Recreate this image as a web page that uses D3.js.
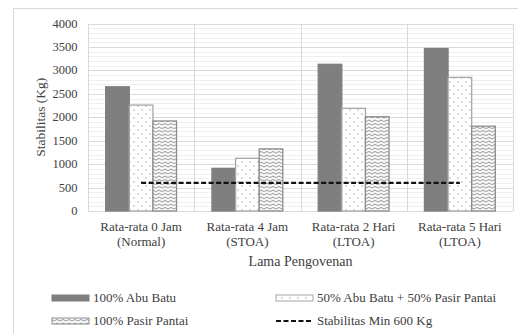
<!DOCTYPE html>
<html>
<head>
<meta charset="utf-8">
<script src="https://cdn.jsdelivr.net/npm/d3@7"></script>
<style>
  body { margin: 0; background: #fff; }
  text { font-family: "Liberation Serif", "Times New Roman", serif; fill: #404040; }
</style>
</head>
<body>
<div id="chart"></div>
<script>
// data
const categories = [["Rata-rata 0 Jam", "(Normal)"], ["Rata-rata 4 Jam", "(STOA)"],
                    ["Rata-rata 2 Hari", "(LTOA)"], ["Rata-rata 5 Hari", "(LTOA)"]];
const seriesNames = ["100% Abu Batu", "50% Abu Batu + 50% Pasir Pantai", "100% Pasir Pantai"];
const abuBatu = [2650, 910, 3130, 3465];
const campuran = [2260, 1125, 2190, 2850];
const pasirPantai = [1920, 1325, 2010, 1810];
const minStabilitas = 600;
const yTicks = [0, 500, 1000, 1500, 2000, 2500, 3000, 3500, 4000];

const W = 518, H = 334;
const plot = {left: 88, top: 23.5, right: 513, bottom: 211};

const svg = d3.select("#chart").append("svg")
    .attr("width", W).attr("height", H);

// patterns
const defs = svg.append("defs");
const dots = defs.append("pattern").attr("id", "dots")
    .attr("patternUnits", "userSpaceOnUse").attr("width", 8).attr("height", 8);
dots.append("rect").attr("width", 8).attr("height", 8).attr("fill", "#fff");
dots.append("circle").attr("cx", 2).attr("cy", 2).attr("r", 0.7).attr("fill", "#999");
dots.append("circle").attr("cx", 6).attr("cy", 6).attr("r", 0.7).attr("fill", "#999");

const wave = defs.append("pattern").attr("id", "wave")
    .attr("patternUnits", "userSpaceOnUse").attr("width", 6).attr("height", 3.5);
wave.append("rect").attr("width", 6).attr("height", 3.5).attr("fill", "#fff");
wave.append("path").attr("d", "M0,2.6 L3,0.9 L6,2.6").attr("fill", "none")
    .attr("stroke", "#858585").attr("stroke-width", 0.9);

// outer frame
svg.append("path").attr("d", `M13.5,${H} V8.5 H${W}`)
    .attr("fill", "none").attr("stroke", "#d9d9d9");

// scales
const x0 = d3.scaleBand().domain(d3.range(categories.length))
    .range([plot.left, plot.right]).paddingInner(0).paddingOuter(0);
const x1 = d3.scaleBand().domain(d3.range(3))
    .range([0, x0.bandwidth()]).paddingInner(0).paddingOuter(0.75);
const y = d3.scaleLinear().domain([0, 4000]).range([plot.bottom, plot.top]);

// gridlines
const g = svg.append("g");
g.selectAll(".minor").data(d3.range(0, 4001, 100)).join("line")
    .attr("x1", plot.left).attr("x2", plot.right)
    .attr("y1", d => Math.round(y(d)) + 0.5).attr("y2", d => Math.round(y(d)) + 0.5)
    .attr("stroke", d => d % 500 === 0 ? "#d9d9d9" : "#efefef");
g.selectAll(".vgrid").data(d3.range(categories.length + 1)).join("line")
    .attr("x1", d => Math.round(plot.left + d * x0.bandwidth()) + 0.5)
    .attr("x2", d => Math.round(plot.left + d * x0.bandwidth()) + 0.5)
    .attr("y1", plot.top).attr("y2", plot.bottom)
    .attr("stroke", "#d9d9d9");

// bars
const fills = ["#7f7f7f", "url(#dots)", "url(#wave)"];
const strokes = ["#7f7f7f", "#a6a6a6", "#8c8c8c"];
const series = [abuBatu, campuran, pasirPantai];
series.forEach((vals, s) => {
  svg.append("g").selectAll("rect").data(vals).join("rect")
      .attr("x", (d, i) => x0(i) + x1(s))
      .attr("y", d => y(d))
      .attr("width", x1.bandwidth())
      .attr("height", d => y(0) - y(d))
      .attr("fill", fills[s])
      .attr("stroke", strokes[s])
      .attr("stroke-width", 1.3);
});

// minimum line
svg.append("line")
    .attr("x1", x0(0) + x0.bandwidth() / 2)
    .attr("x2", x0(categories.length - 1) + x0.bandwidth() / 2)
    .attr("y1", y(minStabilitas)).attr("y2", y(minStabilitas))
    .attr("stroke", "#111").attr("stroke-width", 2.2)
    .attr("stroke-dasharray", "5,2.5");

// y axis labels
svg.append("g").selectAll("text").data(yTicks).join("text")
    .attr("x", 77.5).attr("y", d => y(d) + 4)
    .attr("text-anchor", "end").attr("font-size", 12.5)
    .text(d => d);

svg.append("text")
    .attr("transform", `translate(45,${(plot.top + plot.bottom) / 2}) rotate(-90)`)
    .attr("text-anchor", "middle").attr("font-size", 13.5)
    .text("Stabilitas (Kg)");

// category labels
const cat = svg.append("g").selectAll("text").data(categories).join("text")
    .attr("text-anchor", "middle").attr("font-size", 13);
cat.append("tspan")
    .attr("x", (d, i) => x0(i) + x0.bandwidth() / 2).attr("y", 231)
    .text(d => d[0]);
cat.append("tspan")
    .attr("x", (d, i) => x0(i) + x0.bandwidth() / 2).attr("y", 246)
    .text(d => d[1]);

svg.append("text")
    .attr("x", (plot.left + plot.right) / 2).attr("y", 265.5)
    .attr("text-anchor", "middle").attr("font-size", 14)
    .text("Lama Pengovenan");

// legend
const legend = [
  {name: seriesNames[0], x: 52, y: 298, type: 0},
  {name: seriesNames[1], x: 276, y: 298, type: 1},
  {name: seriesNames[2], x: 52, y: 321, type: 2},
  {name: "Stabilitas Min 600 Kg", x: 276, y: 321, type: "line"}
];
legend.forEach(l => {
  if (l.type === "line") {
    svg.append("line").attr("x1", l.x).attr("x2", l.x + 37)
        .attr("y1", l.y).attr("y2", l.y)
        .attr("stroke", "#111").attr("stroke-width", 2).attr("stroke-dasharray", "5,2.5");
  } else {
    svg.append("rect").attr("x", l.x).attr("y", l.y - 3)
        .attr("width", 37).attr("height", 6)
        .attr("fill", fills[l.type]).attr("stroke", strokes[l.type]);
  }
  svg.append("text").attr("x", l.x + 41).attr("y", l.y + 4)
      .attr("font-size", 13).text(l.name);
});
</script>
</body>
</html>
